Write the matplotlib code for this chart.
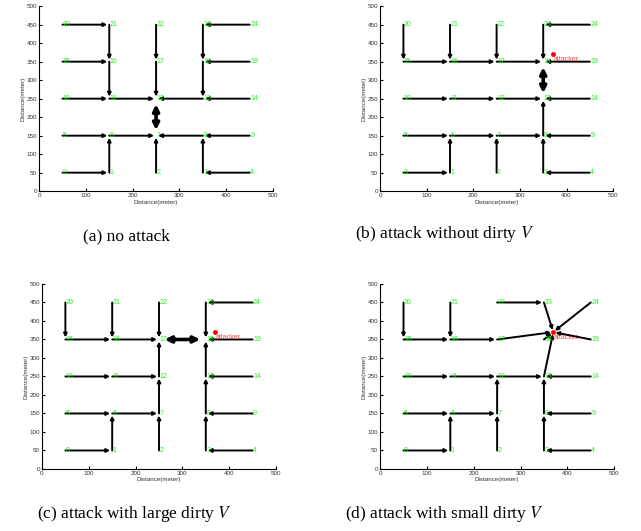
import matplotlib
matplotlib.use("Agg")
import matplotlib.pyplot as plt

plt.rcParams['font.family'] = ['Liberation Sans', 'DejaVu Sans']
plt.rcParams['mathtext.fontset'] = 'stix'

# node coordinates (25 grid nodes), plus attacker as index 25
node_x = [50, 150, 250, 350, 450] * 5
node_y = [50] * 5 + [150] * 5 + [250] * 5 + [350] * 5 + [450] * 5
attacker = (370, 370)
node_x = node_x + [attacker[0]]
node_y = node_y + [attacker[1]]
A = 25

# routing edges (from, to) per panel, and the thick double arrow pair
edges_a = [(0, 1), (1, 6), (5, 6), (6, 7), (2, 7), (8, 7), (3, 8), (4, 3), (9, 8),
           (10, 11), (11, 12), (13, 12), (14, 13),
           (16, 11), (21, 16), (15, 16), (20, 21),
           (17, 12), (22, 17),
           (18, 13), (23, 18), (19, 18), (24, 23)]
pair_a = (7, 12)

edges_b = [(20, 15), (21, 16), (22, 17), (15, 16), (16, 17), (17, 18), (19, 18),
           (23, 18), (24, 23),
           (10, 11), (11, 12), (12, 13), (14, 13),
           (5, 6), (6, 7), (7, 8), (9, 8), (8, 13), (3, 8), (4, 3),
           (0, 1), (1, 6), (2, 7)]
pair_b = (13, 18)

edges_c = [(20, 15), (21, 16), (15, 16), (16, 17), (22, 17),
           (2, 7), (7, 12), (12, 17),
           (3, 8), (8, 13), (13, 18), (23, 18), (24, 23), (19, 18),
           (9, 8), (14, 13), (4, 3),
           (10, 11), (11, 12), (5, 6), (6, 7), (0, 1), (1, 6)]
pair_c = (17, 18)

edges_d = [(20, 15), (21, 16), (15, 16), (16, 17), (17, A), (22, 23), (23, A),
           (24, A), (19, A), (18, A), (13, A),
           (10, 11), (11, 12), (12, 13), (14, 13),
           (2, 7), (7, 12), (6, 7), (5, 6), (1, 6), (0, 1),
           (3, 8), (8, 13), (9, 8), (4, 3)]
pair_d = None

panels = [
    ("(a) no attack", edges_a, pair_a, False, [0.061, 0.640, 0.365, 0.3484], (0.197, 0.540)),
    ("(b) attack without dirty $V$", edges_b, pair_b, True, [0.593, 0.640, 0.3635, 0.3484], (0.693, 0.540)),
    ("(c) attack with large dirty $V$", edges_c, pair_c, True, [0.0655, 0.1168, 0.3651, 0.3484], (0.210, 0.013)),
    ("(d) attack with small dirty $V$", edges_d, pair_d, True, [0.593, 0.1168, 0.3651, 0.3484], (0.693, 0.013)),
]

fig = plt.figure(figsize=(6.41, 5.31), dpi=100)

for caption, edges, pair, has_attacker, rect, cap_pos in panels:
    ax = fig.add_axes(rect)
    ax.set_xlim(0, 500)
    ax.set_ylim(0, 500)
    for s, t in edges:
        ax.annotate('', xy=(node_x[t], node_y[t]), xytext=(node_x[s], node_y[s]),
                    arrowprops=dict(arrowstyle='-|>,head_length=0.5,head_width=0.25',
                                    mutation_scale=4, color='k', lw=1.4,
                                    shrinkA=0, shrinkB=1.5),
                    zorder=2)
    if pair is not None:
        s, t = pair
        ax.annotate('', xy=(node_x[t], node_y[t]), xytext=(node_x[s], node_y[s]),
                    arrowprops=dict(arrowstyle='<|-|>,head_length=0.6,head_width=0.3',
                                    mutation_scale=6, color='k', lw=2.6,
                                    shrinkA=4, shrinkB=4),
                    zorder=3)
    for i in range(25):
        ax.text(node_x[i] + 1, node_y[i], str(i), color='#22ee22', fontsize=5,
                ha='left', va='center', zorder=4)
    if has_attacker:
        # in (d) the arrows all converge on the attacker and hide it
        behind = pair is None
        ax.plot(attacker[0], attacker[1], 'o', color='red', ms=2.5,
                zorder=1 if behind else 5)
        ax.text(attacker[0] + 2, attacker[1] - 4, 'attacker', color='#ff4444',
                fontsize=5, ha='left', va='top', zorder=1 if behind else 4)
    ax.spines['top'].set_visible(False)
    ax.spines['right'].set_visible(False)
    ax.set_xticks([0, 100, 200, 300, 400, 500])
    ax.set_yticks([0, 50, 100, 150, 200, 250, 300, 350, 400, 450, 500])
    ax.tick_params(direction='in', length=2, width=0.8, labelsize=4.5,
                   labelcolor='#333333', pad=1.5)
    ax.set_xlabel('Distance(meter)', fontsize=4.5, color='#333333', labelpad=1)
    ax.set_ylabel('Distance(meter)', fontsize=4.5, color='#333333', labelpad=1)
    fig.text(cap_pos[0], cap_pos[1], caption, family='Liberation Serif',
             fontsize=12.5, ha='center', va='bottom')

plt.savefig('out.png', dpi=100)
